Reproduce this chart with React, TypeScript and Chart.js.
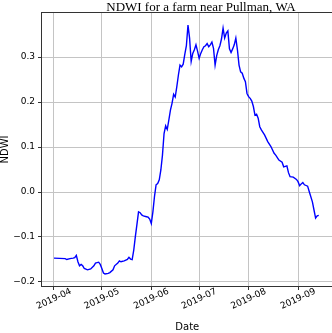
import { useEffect, useRef } from "react";
import { Chart, registerables } from "chart.js";

Chart.register(...registerables);

const chartTitle = "NDWI for a farm near Pullman, WA";
const xTitle = "Date";
const yTitle = "NDWI";

const dates = [
  "2019-04-01", "2019-04-08", "2019-04-09", "2019-04-11", "2019-04-13", "2019-04-14", "2019-04-15",
  "2019-04-16", "2019-04-17", "2019-04-18", "2019-04-19", "2019-04-20", "2019-04-22", "2019-04-24",
  "2019-04-26", "2019-04-27", "2019-04-29", "2019-04-30", "2019-05-01", "2019-05-02", "2019-05-03",
  "2019-05-05", "2019-05-06", "2019-05-08", "2019-05-09", "2019-05-11", "2019-05-12", "2019-05-13",
  "2019-05-15", "2019-05-17", "2019-05-18", "2019-05-19", "2019-05-20", "2019-05-21", "2019-05-22",
  "2019-05-23", "2019-05-24", "2019-05-25", "2019-05-26", "2019-05-27", "2019-05-29", "2019-05-30",
  "2019-05-31", "2019-06-01", "2019-06-02", "2019-06-03", "2019-06-04", "2019-06-05", "2019-06-06",
  "2019-06-07", "2019-06-08", "2019-06-09", "2019-06-10", "2019-06-11", "2019-06-12", "2019-06-13",
  "2019-06-14", "2019-06-15", "2019-06-16", "2019-06-17", "2019-06-18", "2019-06-19", "2019-06-20",
  "2019-06-21", "2019-06-22", "2019-06-23", "2019-06-24", "2019-06-25", "2019-06-26", "2019-06-27",
  "2019-06-28", "2019-06-29", "2019-06-30", "2019-07-01", "2019-07-02", "2019-07-03", "2019-07-04",
  "2019-07-05", "2019-07-06", "2019-07-07", "2019-07-08", "2019-07-09", "2019-07-10", "2019-07-11",
  "2019-07-12", "2019-07-13", "2019-07-14", "2019-07-15", "2019-07-16", "2019-07-17", "2019-07-18",
  "2019-07-19", "2019-07-20", "2019-07-21", "2019-07-22", "2019-07-23", "2019-07-24", "2019-07-25",
  "2019-07-26", "2019-07-27", "2019-07-28", "2019-07-29", "2019-07-30", "2019-07-31", "2019-08-01",
  "2019-08-02", "2019-08-03", "2019-08-04", "2019-08-05", "2019-08-06", "2019-08-07", "2019-08-08",
  "2019-08-09", "2019-08-11", "2019-08-13", "2019-08-15", "2019-08-17", "2019-08-18", "2019-08-20",
  "2019-08-22", "2019-08-23", "2019-08-25", "2019-08-26", "2019-08-27", "2019-08-29", "2019-08-31",
  "2019-09-01", "2019-09-02", "2019-09-03", "2019-09-04", "2019-09-05", "2019-09-07", "2019-09-08",
  "2019-09-10", "2019-09-11", "2019-09-12", "2019-09-13", "2019-09-14",
];

const ndwi = [
  -0.147, -0.148, -0.150, -0.148, -0.147, -0.146, -0.141,
  -0.155, -0.164, -0.161, -0.164, -0.170, -0.173, -0.171,
  -0.164, -0.158, -0.156, -0.161, -0.170, -0.180, -0.182,
  -0.181, -0.179, -0.173, -0.164, -0.158, -0.153, -0.155,
  -0.153, -0.150, -0.145, -0.149, -0.150, -0.129, -0.099,
  -0.072, -0.044, -0.046, -0.051, -0.053, -0.055, -0.056,
  -0.060, -0.070, -0.044, -0.010, 0.016, 0.019, 0.027,
  0.049, 0.082, 0.130, 0.147, 0.139, 0.160, 0.182,
  0.197, 0.217, 0.211, 0.234, 0.260, 0.282, 0.278,
  0.284, 0.306, 0.325, 0.371, 0.342, 0.290, 0.308,
  0.316, 0.327, 0.313, 0.297, 0.308, 0.316, 0.323,
  0.325, 0.330, 0.323, 0.327, 0.333, 0.319, 0.282,
  0.303, 0.316, 0.325, 0.340, 0.364, 0.342, 0.353,
  0.358, 0.318, 0.310, 0.318, 0.327, 0.342, 0.316,
  0.282, 0.267, 0.264, 0.253, 0.245, 0.219, 0.212,
  0.208, 0.202, 0.190, 0.171, 0.173, 0.164, 0.145,
  0.138, 0.127, 0.112, 0.101, 0.086, 0.082, 0.071,
  0.066, 0.056, 0.058, 0.043, 0.034, 0.033, 0.028,
  0.023, 0.014, 0.018, 0.021, 0.016, 0.013, 0.001,
  -0.022, -0.040, -0.058, -0.053, -0.052,
];

const monthTicks = ["2019-04-01", "2019-05-01", "2019-06-01", "2019-07-01", "2019-08-01", "2019-09-01"];
const monthLabels = ["2019-04", "2019-05", "2019-06", "2019-07", "2019-08", "2019-09"];
const yTicks = [-0.2, -0.1, 0.0, 0.1, 0.2, 0.3];

const DAY = 86400000;
const toMs = (s: string) => Date.parse(s + "T00:00:00Z");

const CANVAS_W = 340;
const CANVAS_H = 333;
const SANS = "'DejaVu Sans', sans-serif";
const GRID = "#c4c4c4";

const framePlugin = {
  id: "frameAndLabels",
  afterDraw(chart: any) {
    const { ctx, chartArea: a, scales } = chart;
    ctx.save();
    ctx.strokeStyle = "#333333";
    ctx.lineWidth = 1;
    const x0 = Math.round(a.left) - 0.5;
    const y0 = Math.round(a.top) - 0.5;
    const x1 = Math.round(a.right) + 0.5;
    const y1 = Math.round(a.bottom) + 0.5;
    ctx.strokeRect(x0, y0, x1 - x0, y1 - y0);

    // title
    ctx.fillStyle = "#000000";
    ctx.font = `13px 'Liberation Serif', serif`;
    ctx.textAlign = "center";
    ctx.textBaseline = "alphabetic";
    ctx.fillText(chartTitle, 201, 11);

    // rotated month labels
    ctx.font = `9px ${SANS}`;
    ctx.textAlign = "center";
    ctx.textBaseline = "middle";
    monthTicks.forEach((m, i) => {
      const px = scales.x.getPixelForValue(toMs(m));
      ctx.save();
      ctx.translate(px, a.bottom + 13);
      ctx.rotate((-25 * Math.PI) / 180);
      ctx.fillText(monthLabels[i], 0, 0);
      ctx.restore();
    });
    ctx.restore();
  },
};

export default function App() {
  const ref = useRef<HTMLCanvasElement>(null);

  useEffect(() => {
    const canvas = ref.current;
    if (!canvas) return;
    const t0 = toMs(monthTicks[0]);
    const points = dates.map((d, i) => ({ x: toMs(d), y: ndwi[i] }));

    const chart = new Chart(canvas, {
      type: "line",
      data: {
        datasets: [
          {
            data: points,
            borderColor: "#0000ff",
            borderWidth: 1.4,
            pointRadius: 0,
            tension: 0,
            fill: false,
          },
        ],
      },
      options: {
        responsive: false,
        animation: false,
        devicePixelRatio: 1,
        layout: { padding: { left: 0, right: CANVAS_W - 332.5, top: 13, bottom: 0 } },
        plugins: {
          legend: { display: false },
          tooltip: { enabled: false },
          title: { display: false },
        },
        scales: {
          x: {
            type: "linear",
            min: t0 - 7.52 * DAY,
            max: t0 + 174.6 * DAY,
            afterBuildTicks: (s: any) => {
              s.ticks = monthTicks.map((m) => ({ value: toMs(m) }));
            },
            afterFit: (s: any) => {
              s.height = 47;
            },
            ticks: { display: false },
            grid: { color: GRID, lineWidth: 1, tickLength: 4, tickColor: "#333333", drawTicks: true },
            border: { display: false },
            title: {
              display: true,
              text: xTitle,
              color: "#000000",
              font: { family: SANS, size: 10, lineHeight: "12px" },
              padding: 0,
            },
          },
          y: {
            type: "linear",
            min: -0.20889,
            max: 0.39778,
            afterBuildTicks: (s: any) => {
              s.ticks = yTicks.map((v) => ({ value: v }));
            },
            afterFit: (s: any) => {
              s.width = 42;
            },
            ticks: {
              color: "#000000",
              font: { family: SANS, size: 9 },
              padding: 3,
              callback: (v: any) => (Number(v) < -1e-9 ? "\u2212" : "") + Math.abs(Number(v)).toFixed(1),
            },
            grid: { color: GRID, lineWidth: 1, tickLength: 4, tickColor: "#333333", drawTicks: true },
            border: { display: false },
            title: {
              display: true,
              text: yTitle,
              color: "#000000",
              font: { family: SANS, size: 10, lineHeight: "10px" },
              padding: 0,
            },
          },
        },
      },
      plugins: [framePlugin],
    });

    return () => chart.destroy();
  }, []);

  return (
    <div
      style={{
        position: "fixed",
        left: 0,
        top: 0,
        width: 332,
        height: 333,
        overflow: "hidden",
        background: "#ffffff",
      }}
    >
      <canvas ref={ref} width={CANVAS_W} height={CANVAS_H} style={{ display: "block" }} />
    </div>
  );
}
